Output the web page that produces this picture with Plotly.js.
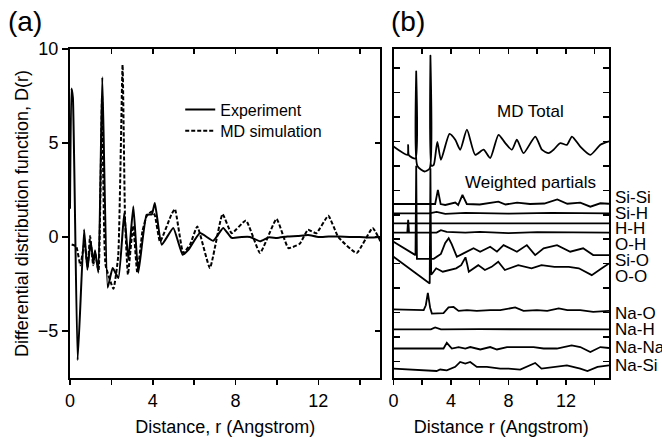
<!DOCTYPE html>
<html>
<head>
<meta charset="utf-8">
<script src="https://cdn.plot.ly/plotly-3.0.1.min.js"></script>
<style>html,body{margin:0;padding:0;background:#fff;}#chart{width:662px;height:437px;}</style>
</head>
<body>
<div id="chart"></div>
<script>
// ---------- Panel (a) data ----------
const expX = [0.0, 0.07, 0.14, 0.37, 0.68, 0.84, 1.0, 1.13, 1.21, 1.37, 1.56, 1.82, 2.06, 2.34, 2.62, 2.82, 3.06, 3.3, 3.7, 3.95, 4.1, 4.43, 4.99, 5.44, 5.72, 6.28, 6.92, 7.4, 7.81, 8.3, 8.7, 9.18, 9.6, 10.0, 10.5, 11.0, 11.5, 12.0, 12.5, 13.0, 13.5, 14.0, 14.5, 15.0];
const expY = [1.5, 7.9, 7.4, -6.55, 0.4, -1.74, -0.23, -1.38, -0.7, -1.9, 8.5, -2.7, -1.65, -2.18, 1.27, -1.2, 1.63, -1.9, 1.18, 1.2, 1.81, -0.41, 0.48, -0.94, -0.68, 0.21, -0.2, 0.48, -0.05, 0.0, 0.0, -0.23, -0.02, -0.05, 0.03, 0.05, 0.1, 0.0, 0.03, 0.02, 0.0, 0.0, -0.03, 0.0];

const mdX = [0.08, 0.3, 0.5, 0.7, 0.85, 0.97, 1.12, 1.22, 1.38, 1.55, 1.72, 2.1, 2.33, 2.54, 2.66, 2.8, 3.05, 3.25, 3.5, 3.7, 3.95, 4.1, 4.35, 4.9, 5.07, 5.47, 5.8, 6.15, 6.76, 7.37, 7.81, 8.5, 9.18, 9.98, 10.55, 11.1, 11.5, 11.9, 12.48, 12.96, 13.85, 14.62, 15.0];
const mdY = [-0.4, -0.5, -1.5, -0.3, -1.6, 0.05, -1.5, -0.9, -1.8, 7.5, -1.5, -2.75, -1.0, 9.16, 0.9, -2.0, 0.6, -1.9, 0.3, 1.1, 1.36, 1.15, -0.25, 1.2, 1.49, -0.85, -0.4, 0.56, -1.65, 1.22, 0.2, 0.88, -0.85, 0.96, -0.59, -0.36, 0.39, 0.2, 1.13, 0.0, -0.85, 0.48, -0.23];

// ---------- Panel (b) data (stacked, arbitrary units) ----------
const totX = [0, 0.97, 1.02, 1.07, 1.53, 1.58, 1.66, 2.16, 2.52, 2.57, 2.64, 2.8, 3.05, 3.3, 3.9, 4.3, 4.64, 5.11, 5.69, 6.27, 6.73, 7.31, 7.78, 8.24, 8.59, 9.05, 9.87, 10.33, 10.8, 11.14, 11.61, 12.07, 12.42, 13.0, 13.7, 14.4, 15];
const totY = [8.79, 8.45, 8.86, 8.43, 8.3, 11.86, 8.0, 7.77, 7.9, 12.51, 8.0, 8.04, 8.98, 8.25, 9.31, 9.07, 8.66, 9.48, 8.45, 8.66, 8.32, 9.27, 8.93, 8.66, 9.07, 8.52, 9.2, 8.66, 8.52, 8.66, 8.93, 8.86, 9.2, 8.79, 8.45, 8.86, 9.0];

const siSiX = [0, 2.9, 3.09, 3.28, 3.6, 4.3, 4.5, 4.8, 5.1, 6.0, 7.3, 7.8, 8.6, 9.5, 10.5, 11.4, 12.1, 13.0, 13.7, 14.4, 15];
const siSiY = [6.44, 6.44, 7.02, 6.44, 6.4, 6.5, 6.4, 6.81, 6.44, 6.42, 6.54, 6.42, 6.5, 6.44, 6.46, 6.63, 6.45, 6.5, 6.33, 6.47, 6.45];
const siHX = [0, 2.5, 3.0, 3.6, 5, 8, 11, 15];
const siHY = [6.06, 6.06, 6.12, 6.04, 6.08, 6.05, 6.08, 6.06];
const hhX = [0, 5, 10, 15];
const hhY = [5.65, 5.65, 5.66, 5.65];
const ohX = [0, 0.96, 1.02, 1.08, 3.0, 3.3, 3.7, 5, 6, 8, 10, 12, 15];
const ohY = [5.27, 5.27, 5.79, 5.27, 5.27, 5.37, 5.3, 5.27, 5.3, 5.25, 5.29, 5.27, 5.27];
const siOX = [0, 1.53, 1.58, 1.63, 2.8, 3.3, 3.6, 3.84, 4.05, 4.41, 4.87, 5.57, 6.03, 6.73, 7.2, 7.66, 8.59, 9.28, 9.86, 10.45, 11.38, 12.3, 13.2, 13.9, 15];
const siOY = [4.9, 4.35, 8.0, 4.2, 4.2, 4.4, 4.85, 5.04, 4.8, 4.28, 4.42, 4.63, 4.49, 4.69, 4.49, 4.76, 4.49, 4.76, 4.35, 4.63, 4.76, 4.49, 4.63, 4.35, 4.35];
const ooX = [0, 2.52, 2.57, 2.62, 2.7, 2.97, 3.43, 4.36, 4.71, 4.9, 5.01, 5.12, 5.24, 5.9, 6.36, 6.83, 7.29, 7.75, 8.68, 9.61, 10.3, 11.2, 12.2, 12.9, 13.8, 14.5, 15];
const ooY = [4.28, 3.19, 7.9, 3.55, 3.6, 3.81, 3.67, 3.81, 3.94, 4.15, 4.26, 4.0, 3.67, 3.94, 3.74, 3.87, 4.08, 3.74, 3.94, 3.81, 3.94, 3.87, 3.87, 3.81, 3.53, 3.81, 4.01];
const naOX = [0, 2.1, 2.25, 2.39, 2.55, 2.67, 3.48, 3.83, 4.18, 4.53, 5.11, 5.8, 6.73, 7.43, 8.47, 9.05, 9.98, 10.7, 11.5, 12.1, 13.0, 13.9, 15];
const naOY = [2.13, 2.1, 2.3, 2.81, 2.2, 1.96, 1.98, 2.21, 2.23, 2.07, 2.1, 2.07, 2.1, 2.1, 2.21, 2.07, 2.1, 2.07, 2.17, 2.1, 2.1, 2.03, 2.07];
const naHX = [0, 2.6, 2.9, 3.3, 6, 9, 12, 15];
const naHY = [1.31, 1.31, 1.39, 1.31, 1.32, 1.31, 1.32, 1.31];
const naNaX = [0, 3.48, 3.71, 4.06, 4.53, 5.0, 5.34, 6.04, 6.73, 7.2, 7.9, 8.82, 9.75, 10.45, 11.37, 12.4, 13.0, 13.7, 14.4, 15];
const naNaY = [0.53, 0.53, 0.76, 0.53, 0.59, 0.53, 0.59, 0.49, 0.59, 0.49, 0.59, 0.59, 0.59, 0.53, 0.53, 0.66, 0.59, 0.39, 0.59, 0.55];
const naSiX = [0, 3.0, 3.25, 3.71, 4.3, 4.64, 5.0, 5.34, 5.8, 6.5, 7.43, 8.0, 8.82, 9.86, 10.3, 11.14, 12.07, 13.0, 13.5, 14.2, 15];
const naSiY = [-0.29, -0.39, -0.33, -0.36, -0.22, -0.02, -0.09, -0.02, -0.22, -0.22, -0.29, -0.29, -0.33, -0.06, -0.29, -0.22, -0.16, -0.29, -0.39, -0.22, -0.16];

const partialNames = ["Si-Si", "Si-H", "H-H", "O-H", "Si-O", "O-O", "Na-O", "Na-H", "Na-Na", "Na-Si"];
const partialXs = [siSiX, siHX, hhX, ohX, siOX, ooX, naOX, naHX, naNaX, naSiX];
const partialYs = [siSiY, siHY, hhY, ohY, siOY, ooY, naOY, naHY, naNaY, naSiY];
const labelLevels = [6.69, 6.07, 5.42, 4.8, 4.15, 3.49, 1.98, 1.32, 0.58, -0.16];

const legendNames = ["Experiment", "MD simulation"];

// ---------- Build ----------
const FONT = "Liberation Sans, Arial, Helvetica, sans-serif";
const traces = [
  {x: expX, y: expY, xaxis: 'x', yaxis: 'y', mode: 'lines', name: legendNames[0], legend: 'legend',
   line: {color: '#000', width: 2, shape: 'spline', smoothing: 0.4}},
  {x: mdX, y: mdY, xaxis: 'x', yaxis: 'y', mode: 'lines', name: legendNames[1], legend: 'legend2',
   line: {color: '#000', width: 2, dash: '4px,2px', shape: 'spline', smoothing: 0.4}},
  {x: totX, y: totY, xaxis: 'x2', yaxis: 'y2', mode: 'lines', name: 'MD Total', showlegend: false,
   line: {color: '#000', width: 1.8, shape: 'spline', smoothing: 0.6}}
];
partialNames.forEach((n, i) => {
  traces.push({x: partialXs[i], y: partialYs[i], xaxis: 'x2', yaxis: 'y2', mode: 'lines',
    name: n, showlegend: false, line: {color: '#000', width: 1.8}});
});
// empty carriers so the mirrored frame axes are drawn
[['x3', 'y'], ['x', 'y3'], ['x4', 'y2']].forEach(p => {
  traces.push({x: [], y: [], xaxis: p[0], yaxis: p[1], mode: 'lines', showlegend: false, hoverinfo: 'skip'});
});

const axBase = {showgrid: false, zeroline: false, showline: true, linecolor: '#000', linewidth: 2,
  tickcolor: '#000', tickwidth: 1.5, automargin: false, fixedrange: true,
  tickfont: {family: FONT, size: 18, color: '#000'}};

const annFont = (s) => ({family: FONT, size: s, color: '#000'});
const annotations = [
  {text: '(a)', xref: 'paper', yref: 'paper', x: -0.0835, y: 1.083, xanchor: 'center', yanchor: 'middle',
   showarrow: false, font: annFont(28)},
  {text: '(b)', xref: 'paper', yref: 'paper', x: 0.6274, y: 1.083, xanchor: 'center', yanchor: 'middle',
   showarrow: false, font: annFont(28)},
  {text: 'MD Total', xref: 'paper', yref: 'y2', x: 0.854, y: 10.23, xanchor: 'center', yanchor: 'middle',
   showarrow: false, font: annFont(17)},
  {text: 'Weighted partials', xref: 'paper', yref: 'y2', x: 0.854, y: 7.32, xanchor: 'center', yanchor: 'middle',
   showarrow: false, font: annFont(17)}
];
partialNames.forEach((n, i) => {
  annotations.push({text: n, xref: 'paper', yref: 'y2', x: 1.0074, y: labelLevels[i],
    xanchor: 'left', yanchor: 'middle', showarrow: false, font: annFont(17)});
});

const legBase = {xanchor: 'left', yanchor: 'top', bgcolor: 'rgba(0,0,0,0)', borderwidth: 0,
  font: {family: FONT, size: 16, color: '#000'}};

const layout = {
  width: 662, height: 437,
  margin: {l: 70, r: 53.3, t: 49.3, b: 59.3},
  paper_bgcolor: '#fff', plot_bgcolor: 'rgba(0,0,0,0)',
  font: {family: FONT, color: '#000'},
  showlegend: true,
  legend: Object.assign({}, legBase, {x: 0.2045, y: 0.8678}),
  legend2: Object.assign({}, legBase, {x: 0.2045, y: 0.803}),
  xaxis: Object.assign({}, axBase, {domain: [0, 0.576], range: [0, 15], anchor: 'y',
    tick0: 0, dtick: 4, ticks: 'outside', ticklen: 5,
    minor: {dtick: 2, tick0: 0, ticks: 'outside', ticklen: 5, tickwidth: 1.5, tickcolor: '#000'},
    title: {text: 'Distance, r (Angstrom)', font: annFont(18)}}),
  xaxis3: Object.assign({}, axBase, {overlaying: 'x', anchor: 'y', side: 'top', range: [0, 15],
    tick0: 0, dtick: 2, ticks: 'inside', ticklen: 5, showticklabels: false}),
  yaxis: Object.assign({}, axBase, {domain: [0, 1], range: [-7.5, 10], anchor: 'x',
    tick0: 0, dtick: 5, ticks: 'outside', ticklen: 6,
    title: {text: 'Differential distribution function, D(r)', font: annFont(18), standoff: 5}}),
  yaxis3: Object.assign({}, axBase, {overlaying: 'y', anchor: 'x', side: 'right', range: [-7.5, 10],
    tick0: 0, dtick: 5, ticks: 'inside', ticklen: 5, showticklabels: false}),
  xaxis2: Object.assign({}, axBase, {domain: [0.6002, 1], range: [0, 15], anchor: 'y2',
    tick0: 0, dtick: 4, ticks: 'outside', ticklen: 5,
    minor: {dtick: 2, tick0: 0, ticks: 'outside', ticklen: 5, tickwidth: 1.5, tickcolor: '#000'},
    title: {text: 'Distance r (Angstrom)', font: annFont(18)}}),
  xaxis4: Object.assign({}, axBase, {overlaying: 'x2', anchor: 'y2', side: 'top', range: [0, 15],
    tick0: 0, dtick: 2, ticks: 'inside', ticklen: 5, showticklabels: false}),
  yaxis2: Object.assign({}, axBase, {domain: [0, 1], range: [-0.676, 12.78], anchor: 'x2',
    tick0: 0, dtick: 1, ticks: 'inside', ticklen: 6, mirror: 'ticks', showticklabels: false}),
  annotations: annotations
};

Plotly.newPlot('chart', traces, layout, {displayModeBar: false, staticPlot: true});
</script>
</body>
</html>
